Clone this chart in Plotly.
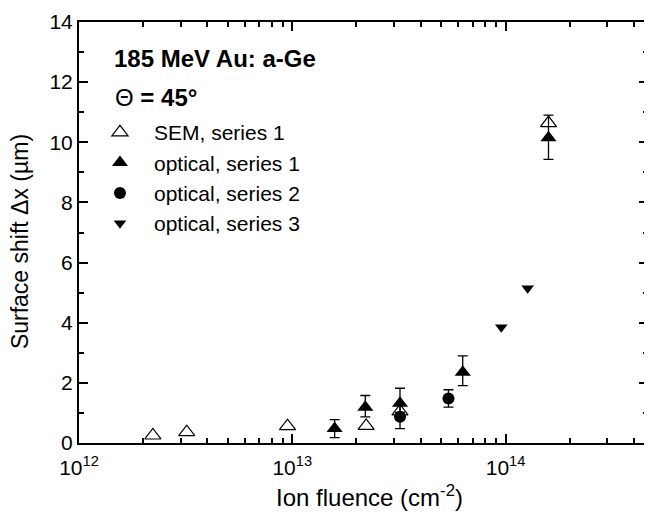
import plotly.graph_objects as go

# ---- data ----
sem_x = [2.22e12, 3.2e12, 9.5e12, 2.22e13, 3.2e13, 1.59e14]
sem_y = [0.25, 0.36, 0.56, 0.57, 1.05, 10.64]

opt1_x = [1.58e13, 2.2e13, 3.2e13, 6.3e13, 1.59e14]
opt1_y = [0.48, 1.19, 1.32, 2.35, 10.15]
opt1_err_plus = [0.30, 0.39, 0.50, 0.55, 0.75]
opt1_err_minus = [0.30, 0.32, 0.30, 0.44, 0.72]

opt2_x = [3.2e13, 5.4e13]
opt2_y = [0.87, 1.48]
opt2_err = [0.39, 0.29]

opt3_x = [9.55e13, 1.27e14]
opt3_y = [3.85, 5.15]

x_tickvals = [1e12, 1e13, 1e14]
x_ticktext = ["10<sup>12</sup>", "10<sup>13</sup>", "10<sup>14</sup>"]

FONT = "Liberation Sans, Arial, Helvetica, sans-serif"
TICK_FS = 21
TITLE_FS = 24
LEG_FS = 21

# page body has an 8px margin: figure is 644x504 placed at (8, 8)
W, H = 644, 504
ML, MR, MT, MB = 71, 2, 10, 69
PW, PH = W - ML - MR, H - MT - MB


def px(xf):
    return (xf - ML) / PW


def py(yf):
    return (MT + PH - yf) / PH


fig = go.Figure()

fig.add_trace(go.Scatter(
    x=sem_x, y=sem_y, mode="markers", name="SEM, series 1",
    legendgroup="a",
    marker=dict(symbol="triangle-up-open", size=14, color="black",
                line=dict(width=1.2, color="black")),
))
fig.add_trace(go.Scatter(
    x=opt1_x, y=opt1_y, mode="markers", name="optical, series 1",
    legendgroup="b",
    marker=dict(symbol="triangle-up", size=14, color="black"),
    error_y=dict(type="data", array=opt1_err_plus, arrayminus=opt1_err_minus,
                 symmetric=False, color="black", thickness=1.3, width=5),
))
fig.add_trace(go.Scatter(
    x=opt2_x, y=opt2_y, mode="markers", name="optical, series 2",
    legendgroup="c",
    marker=dict(symbol="circle", size=12, color="black"),
    error_y=dict(type="data", array=opt2_err, color="black", thickness=1.3, width=5),
))
fig.add_trace(go.Scatter(
    x=opt3_x, y=opt3_y, mode="markers", name="optical, series 3",
    legendgroup="d",
    marker=dict(symbol="triangle-down", size=11, color="black"),
))

axis_common = dict(
    showline=True, linewidth=2, linecolor="black", mirror="allticks",
    ticks="inside", ticklen=9, tickwidth=2, tickcolor="black",
    showgrid=False, zeroline=False, ticklabeloverflow="allow",
    tickfont=dict(family=FONT, size=TICK_FS, color="black"),
)

fig.update_xaxes(
    type="log", range=[12, 14.668],
    tickvals=x_tickvals, ticktext=x_ticktext, ticklabelstandoff=5,
    minor=dict(ticks="inside", ticklen=5, tickwidth=1.5, tickcolor="black",
               dtick="D1", showgrid=False),
    **axis_common,
)
fig.update_yaxes(
    range=[0, 14], dtick=2,
    minor=dict(ticks="inside", ticklen=5, tickwidth=1.5, tickcolor="black",
               dtick=1, showgrid=False),
    **axis_common,
)

# axis titles
fig.add_annotation(text="Ion fluence (cm<sup>-2</sup>)", xref="paper", yref="paper",
                   x=px(363), y=py(489), xanchor="center", yanchor="middle",
                   showarrow=False, font=dict(family=FONT, size=24, color="black"))
fig.add_annotation(text="Surface shift Δx (µm)", xref="paper", yref="paper",
                   x=px(12), y=py(232), xanchor="center", yanchor="middle", textangle=-90,
                   showarrow=False, font=dict(family=FONT, size=23, color="black"))

# in-plot header texts
fig.add_annotation(text="<b>185 MeV Au: a-Ge</b>", xref="paper", yref="paper",
                   x=px(104), y=py(47), xanchor="left", yanchor="middle",
                   showarrow=False, font=dict(family=FONT, size=TITLE_FS, color="black"))
fig.add_annotation(text="Θ <b>= 45°</b>", xref="paper", yref="paper",
                   x=px(105), y=py(86), xanchor="left", yanchor="middle",
                   showarrow=False, font=dict(family=FONT, size=TITLE_FS, color="black"))

fig.update_layout(
    width=W, height=H,
    margin=dict(l=ML, r=MR, t=MT, b=MB),
    paper_bgcolor="white", plot_bgcolor="white",
    font=dict(family=FONT, size=LEG_FS, color="black"),
    showlegend=True,
    legend=dict(x=px(78), y=py(101), xanchor="left", yanchor="top",
                bgcolor="rgba(0,0,0,0)", borderwidth=0,
                font=dict(family=FONT, size=LEG_FS, color="black"),
                traceorder="grouped", tracegroupgap=0, itemwidth=58),
)

fig.write_html("out.html")
